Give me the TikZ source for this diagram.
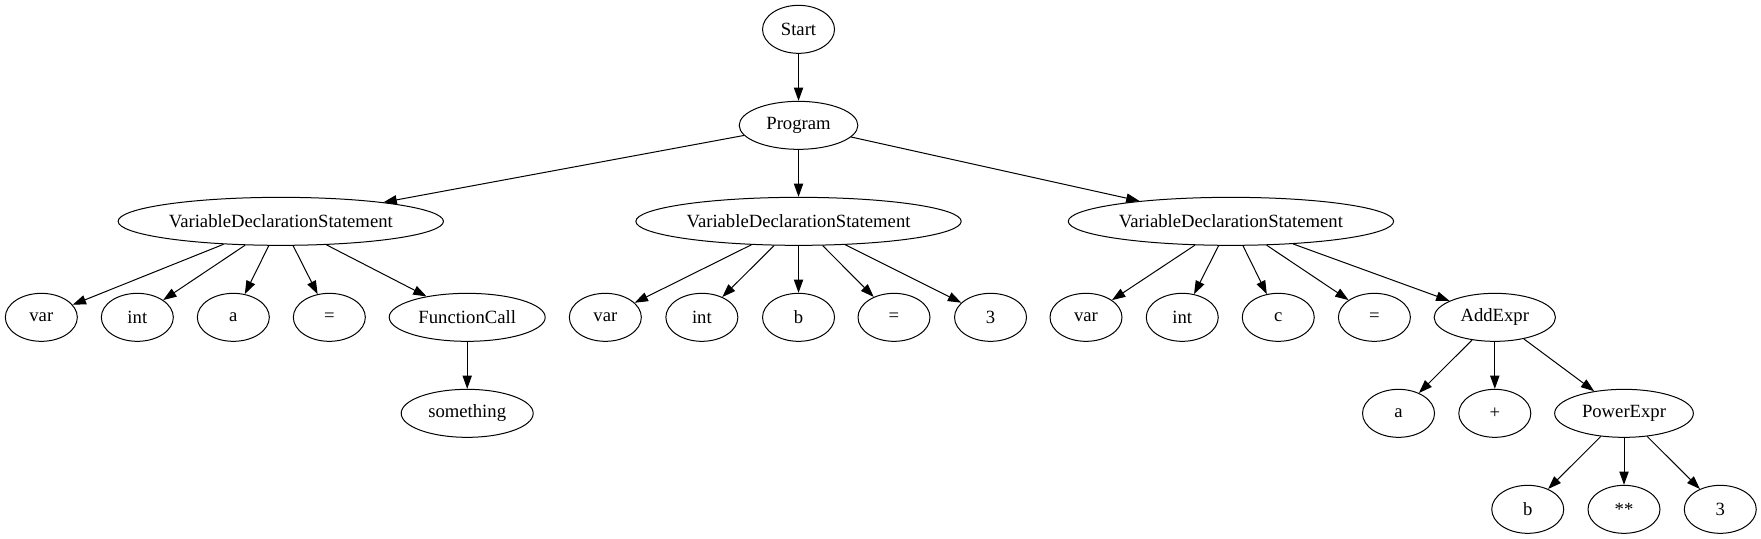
\documentclass[tikz,border=0pt]{standalone}
\usepackage{fontspec}
\setmainfont{Liberation Serif}
\usepackage{tikz}
\usetikzlibrary{shapes.geometric, arrows.meta}

\begin{document}
\begin{tikzpicture}[x=1pt, y=-1pt,
		every node/.style={font=\fontsize{14}{16}\selectfont},
		tnode/.style={ellipse, draw, line width=0.75pt, inner sep=0pt, minimum width=54pt, minimum height=36pt},
		tedge/.style={line width=0.75pt, -{Triangle[length=10pt, width=7pt]}}]
		\useasboundingbox (0,0) rectangle (1320.75,404.25);
		% ranks
		\node[tnode] (start) at (598.9,22) {Start};
		\node[tnode, minimum width=89pt] (prog) at (598.9,94) {Program};
		\node[tnode, minimum width=244pt] (vds1) at (210.6,166) {VariableDeclarationStatement};
		\node[tnode, minimum width=244pt] (vds2) at (598.9,166) {VariableDeclarationStatement};
		\node[tnode, minimum width=244pt] (vds3) at (923.2,166) {VariableDeclarationStatement};
		% first statement
		\node[tnode] (var1) at (31,238) {var};
		\node[tnode] (int1) at (103,238) {int};
		\node[tnode] (id1) at (175,238) {a};
		\node[tnode] (eq1) at (247,238) {=};
		\node[tnode, minimum width=117pt] (call) at (350.4,238) {FunctionCall};
		\node[tnode, minimum width=99pt] (arg) at (350.4,310) {something};
		% second statement
		\node[tnode] (var2) at (454,238) {var};
		\node[tnode] (int2) at (526.4,238) {int};
		\node[tnode] (id2) at (598.9,238) {b};
		\node[tnode] (eq2) at (670.5,238) {=};
		\node[tnode] (num2) at (742.9,238) {3};
		% third statement
		\node[tnode] (var3) at (814.5,238) {var};
		\node[tnode] (int3) at (886.7,238) {int};
		\node[tnode] (id3) at (958.7,238) {c};
		\node[tnode] (eq3) at (1030.8,238) {=};
		\node[tnode, minimum width=91pt] (add) at (1121.1,238) {AddExpr};
		\node[tnode] (adda) at (1048.9,310) {a};
		\node[tnode] (plus) at (1121.1,310) {+};
		\node[tnode, minimum width=104pt] (pow) at (1218,310) {PowerExpr};
		\node[tnode] (powb) at (1145.8,382) {b};
		\node[tnode] (star) at (1218,382) {**};
		\node[tnode] (pow3) at (1290.2,382) {3};
		% edges
		\foreach \a/\b in {start/prog, prog/vds1, prog/vds2, prog/vds3,
			vds1/var1, vds1/int1, vds1/id1, vds1/eq1, vds1/call, call/arg,
			vds2/var2, vds2/int2, vds2/id2, vds2/eq2, vds2/num2,
			vds3/var3, vds3/int3, vds3/id3, vds3/eq3, vds3/add,
			add/adda, add/plus, add/pow, pow/powb, pow/star, pow/pow3} {
			\draw[tedge] (\a) -- (\b);
		}
	\end{tikzpicture}
\end{document}
